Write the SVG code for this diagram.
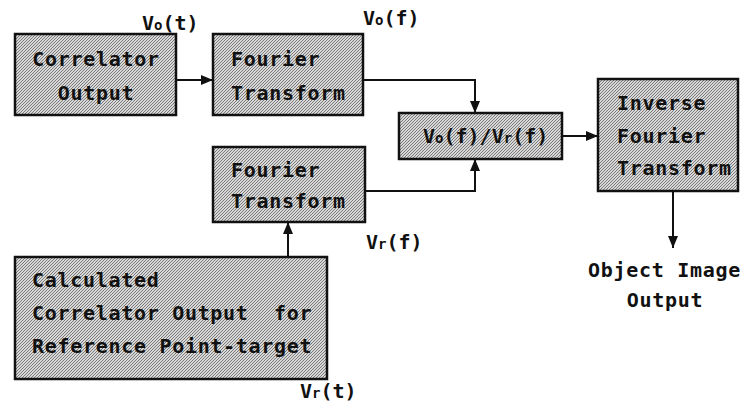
<svg xmlns="http://www.w3.org/2000/svg" width="741" height="412" viewBox="0 0 741 412">
<style>
.box{fill:url(#stip);stroke:#111;stroke-width:2.5}
.t{font-family:"DejaVu Sans Mono","Liberation Mono",monospace;font-weight:bold;font-size:20px;letter-spacing:0.7px;fill:#111}
.lbl{font-family:"DejaVu Sans Mono","Liberation Mono",monospace;font-weight:bold;font-size:20px;fill:#111}
.sub{font-size:14px}
.c{fill:none;stroke:#111;stroke-width:2}
</style>
<defs>
<pattern id="stip" width="3" height="3" patternUnits="userSpaceOnUse">
<rect width="3" height="3" fill="#d8d8d8"/>
<rect x="0" y="0" width="1" height="1" fill="#7a7a7a"/>
<rect x="2" y="1" width="1" height="1" fill="#7a7a7a"/>
<rect x="1" y="2" width="1" height="1" fill="#7a7a7a"/>
</pattern>
<marker id="arr" viewBox="0 0 12 10" refX="12" refY="5" markerWidth="12" markerHeight="10" markerUnits="userSpaceOnUse" orient="auto">
<path d="M0,0 L12,5 L0,10 Z" fill="#111"/>
</marker>
</defs>
<rect width="741" height="412" fill="#fff"/>

<g id="connectors">
<line class="c" x1="176" y1="80" x2="213" y2="80" marker-end="url(#arr)"/>
<polyline class="c" points="363,80 475,80 475,113" marker-end="url(#arr)"/>
<polyline class="c" points="365,191 475,191 475,159" marker-end="url(#arr)"/>
<line class="c" x1="288" y1="257" x2="288" y2="222" marker-end="url(#arr)"/>
<line class="c" x1="562" y1="136" x2="598" y2="136" marker-end="url(#arr)"/>
<line class="c" x1="673" y1="191" x2="673" y2="248" marker-end="url(#arr)"/>
</g>

<g id="correlator-output">
<rect class="box" x="15" y="34" width="161" height="81"/>
<text class="t" x="96" y="66" text-anchor="middle">Correlator</text>
<text class="t" x="96" y="100" text-anchor="middle">Output</text>
</g>

<g id="fourier-top">
<rect class="box" x="213" y="34" width="150" height="81"/>
<text class="t" x="231" y="66">Fourier</text>
<text class="t" x="231" y="100">Transform</text>
</g>

<g id="ratio">
<rect class="box" x="399" y="113" width="163" height="46"/>
<text class="lbl" x="423" y="143">V<tspan class="sub">o</tspan>(f)/V<tspan class="sub">r</tspan>(f)</text>
</g>

<g id="inverse-fourier">
<rect class="box" x="598" y="79" width="140" height="112"/>
<text class="t" x="617" y="110">Inverse</text>
<text class="t" x="617" y="143">Fourier</text>
<text class="t" x="617" y="175">Transform</text>
</g>

<g id="fourier-bottom">
<rect class="box" x="213" y="147" width="152" height="75"/>
<text class="t" x="231" y="177">Fourier</text>
<text class="t" x="231" y="208">Transform</text>
</g>

<g id="calculated">
<rect class="box" x="15" y="257" width="312" height="122"/>
<text class="t" x="32" y="287">Calculated</text>
<text class="t" x="32" y="320" xml:space="preserve">Correlator Output  for</text>
<text class="t" x="32" y="353">Reference Point-target</text>
</g>

<g id="labels">
<text class="lbl" x="142" y="30">V<tspan class="sub">o</tspan>(t)</text>
<text class="lbl" x="363" y="25">V<tspan class="sub">o</tspan>(f)</text>
<text class="lbl" x="366" y="249">V<tspan class="sub">r</tspan>(f)</text>
<text class="lbl" x="300" y="398">V<tspan class="sub">r</tspan>(t)</text>
</g>

<g id="object-image-output">
<text class="t" x="588" y="277">Object Image</text>
<text class="t" x="665" y="307" text-anchor="middle">Output</text>
</g>
</svg>
